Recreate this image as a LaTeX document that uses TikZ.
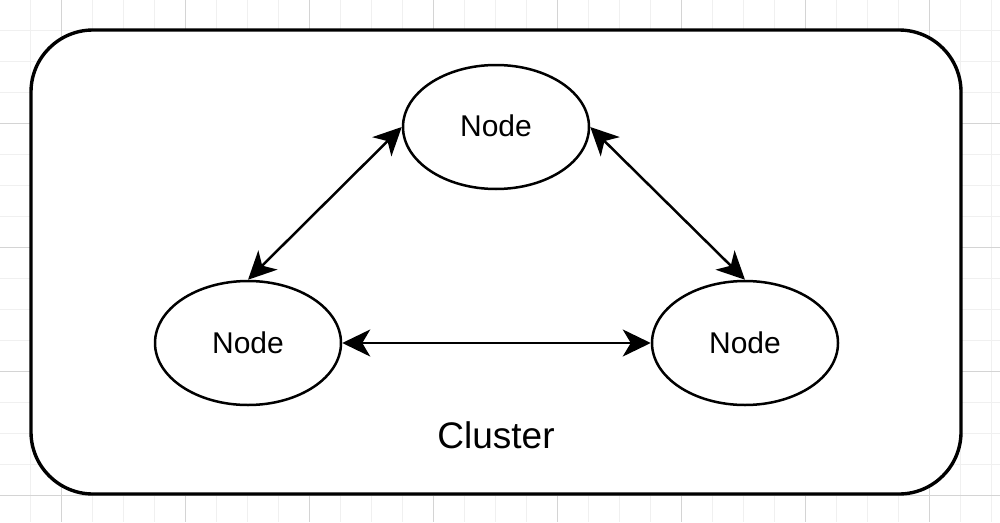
\documentclass[tikz,border=0pt]{standalone}
\usepackage{fontspec}
\setmainfont{Liberation Sans}
\usetikzlibrary{arrows.meta,shapes.geometric}
\definecolor{gridminor}{HTML}{F0F0F0}
\definecolor{gridmajor}{HTML}{D4D4D4}
\tikzset{
  cluster/.style={draw=black, line width=3.4pt, fill=white, rounded corners=62pt},
  member/.style={draw=black, line width=2.5pt, fill=white, ellipse, minimum width=186pt, minimum height=124pt, inner sep=0pt, font=\fontsize{30}{36}\selectfont},
  link/.style={line width=2.5pt, {Stealth[length=28pt,width=27pt,inset=8pt]}-{Stealth[length=28pt,width=27pt,inset=8pt]}},
}
\begin{document}
\begin{tikzpicture}[x=1pt,y=-1pt]
\useasboundingbox (0,0) rectangle (1000,522);
\fill[white] (0,0) rectangle (1000,522);
% grid
\foreach \i in {0,...,33} {
  \draw[gridminor, line width=1pt] ({-1+31*\i},0) -- ({-1+31*\i},522);
}
\foreach \j in {0,...,17} {
  \draw[gridminor, line width=1pt] (0,{-1+31*\j}) -- (1000,{-1+31*\j});
}
\foreach \i in {0,...,8} {
  \draw[gridmajor, line width=1pt] ({61+124*\i-124},0) -- ({61+124*\i-124},522);
}
\foreach \j in {0,...,4} {
  \draw[gridmajor, line width=1pt] (0,{-1+124*\j}) -- (1000,{-1+124*\j});
}
% cluster
\draw[cluster] (31,30) rectangle (961,494);
\node[font=\fontsize{37}{44}\selectfont] (label) at (496,435) {Cluster};
% nodes
\node[member] (top) at (496,127) {\raisebox{2pt}{Node}};
\node[member] (left) at (248,343) {Node};
\node[member] (right) at (745,343) {Node};
% links
\draw[link] (top.west) -- (left.north);
\draw[link] (top.east) -- (right.north);
\draw[link] (left.east) -- (right.west);
\end{tikzpicture}
\end{document}
